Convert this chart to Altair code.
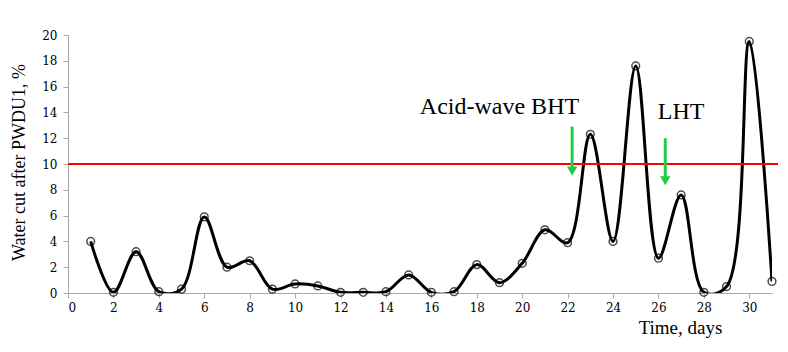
import altair as alt
import pandas as pd

days = list(range(1, 32))
water_cut = [4.0, 0.05, 3.2, 0.1, 0.3, 5.9, 2.0, 2.5, 0.3, 0.7,
             0.55, 0.05, 0.05, 0.1, 1.4, 0.05, 0.1, 2.2, 0.8, 2.3,
             4.9, 3.9, 12.3, 4.0, 17.6, 2.7, 7.6, 0.05, 0.5, 19.5, 0.9]
threshold = 10
x_ticks = list(range(0, 31, 2))
y_ticks = list(range(0, 21, 2))

labels = ["Acid-wave BHT", "LHT"]
label_x = [19.0, 27.0]
label_y = [14.4, 14.0]
arrow_x = [22.2, 26.3]
arrow_top = [12.9, 12.0]
arrow_tip = [9.45, 8.7]

df = pd.DataFrame({"day": days, "cut": water_cut})
ann = pd.DataFrame({"label": labels, "lx": label_x, "ly": label_y,
                    "ax": arrow_x, "atop": arrow_top, "atip": arrow_tip})

FONT = "Liberation Serif"
TICKFONT = "DejaVu Serif"
xs = alt.Scale(domain=[0, 31], nice=False, zero=False)
ys = alt.Scale(domain=[0, 20], nice=False)

x_axis = alt.Axis(
    values=x_ticks, title="Time, days", grid=False, domainColor="#aaaaaa",
    tickColor="#aaaaaa", tickSize=5, labelFont=TICKFONT, labelFontSize=12,
    labelColor="black", labelPadding=4, titleFont=FONT, titleFontSize=19,
    titleFontWeight="normal", titleColor="black",
    titleX=612, titleY=25, titleAlign="center", titleAnchor="start",
    titleBaseline="top")
y_axis = alt.Axis(
    values=y_ticks, title="Water cut after PWDU1, %", grid=False,
    domainColor="#aaaaaa", tickColor="#aaaaaa", tickSize=5,
    labelFont=TICKFONT, labelFontSize=12, labelColor="black", labelPadding=6,
    titleFont=FONT, titleFontSize=18, titleFontWeight="normal",
    titleColor="black", titleX=-44, titleY=127, titleAlign="center",
    titleAnchor="start", titleBaseline="alphabetic")


def X(field):
    return alt.X(field, scale=xs, axis=x_axis, title="Time, days")


def Y(field):
    return alt.Y(field, scale=ys, axis=y_axis, title="Water cut after PWDU1, %")


line = alt.Chart(df).mark_line(
    color="black", strokeWidth=3, interpolate="catmull-rom", clip=True
).encode(x=X("day:Q"), y=Y("cut:Q"))

points = alt.Chart(df).mark_point(
    shape="circle", filled=False, color="black", strokeWidth=1.5, size=60
).encode(x=X("day:Q"), y=Y("cut:Q"))

red = alt.Chart(pd.DataFrame({"y": [threshold]})).mark_rule(
    color="#ff0000", strokeWidth=2
).encode(y=Y("y:Q"), x=alt.value(0), x2=alt.value(710))

text = alt.Chart(ann).mark_text(
    font=FONT, fontSize=24, color="black"
).encode(x=X("lx:Q"), y=Y("ly:Q"), text="label:N")

shaft = alt.Chart(ann).mark_rule(color="#22cc44", strokeWidth=3).encode(
    x=X("ax:Q"), y=Y("atop:Q"), y2="atip:Q")

head = alt.Chart(ann).mark_point(
    shape="triangle-down", filled=True, color="#22cc44", size=110, opacity=1
).encode(x=X("ax:Q"), y=Y("atip:Q"))

chart = alt.layer(line, red, points, shaft, head, text).properties(
    width=704, height=258,
    autosize=alt.AutoSizeParams(type="none"),
    padding={"left": 60, "top": 27, "right": 8, "bottom": 51},
    background="white",
).configure_view(stroke=None)

chart.save("out.html", embed_options={"renderer": "svg", "actions": False})
